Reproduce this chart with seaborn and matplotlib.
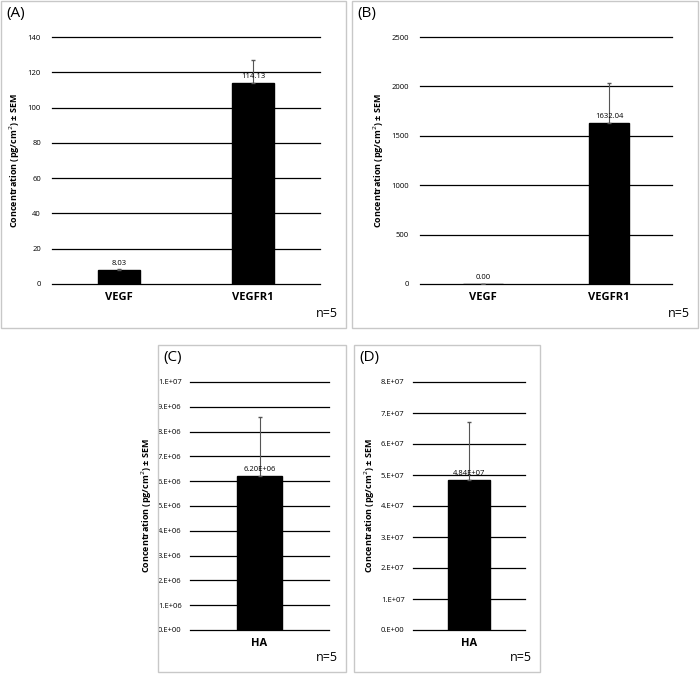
import matplotlib
matplotlib.use("Agg")
import matplotlib.pyplot as plt
from matplotlib.patches import Rectangle
import pandas as pd
import seaborn as sns

plt.rcParams["font.family"] = "Open Sans"

A_CATS = ["VEGF", "VEGFR1"]
A_VALS = [8.03, 114.13]
A_SEM = [0.7, 12.7]
A_LABELS = ["8.03", "114.13"]

B_CATS = ["VEGF", "VEGFR1"]
B_VALS = [0.0, 1632.04]
B_SEM = [0.0, 400.0]
B_LABELS = ["0.00", "1632.04"]

C_CATS = ["HA"]
C_VALS = [6.20e6]
C_SEM = [2.4e6]
C_LABELS = ["6.20E+06"]

D_CATS = ["HA"]
D_VALS = [4.84e7]
D_SEM = [1.88e7]
D_LABELS = ["4.84E+07"]

W, H = 700, 674
fig = plt.figure(figsize=(W / 100, H / 100), dpi=100)


def px_axes(x0, y0, x1, y1):
    return fig.add_axes([x0 / W, 1 - y1 / H, (x1 - x0) / W, (y1 - y0) / H])


def box(x0, y0, x1, y1):
    fig.patches.append(Rectangle((x0 / W, 1 - y1 / H), (x1 - x0) / W, (y1 - y0) / H,
                                 transform=fig.transFigure, fill=False,
                                 edgecolor="#c8c8c8", lw=1.0))


def panel(rect, boxrect, tag, cats, vals, sems, labels, ticks, ticklabels, width, ypad, lpad):
    box(*boxrect)
    ax = px_axes(*rect)
    for t in ticks:
        ax.axhline(t, color="black", lw=0.9, clip_on=False, zorder=0)
    df = pd.DataFrame({"cat": cats, "val": vals})
    sns.barplot(data=df, x="cat", y="val", color="black", width=width, ax=ax,
                saturation=1, edgecolor="black", zorder=2)
    ax.errorbar(range(len(cats)), vals, yerr=[[0] * len(sems), sems], fmt="none",
                ecolor="#555555", elinewidth=0.8, capsize=1.5, zorder=3)
    ax.set_ylim(ticks[0], ticks[-1])
    ax.set_xlim(-0.5, len(cats) - 0.5)
    ax.set_yticks(ticks)
    ax.set_yticklabels(ticklabels, fontsize=5.5)
    for s in ax.spines.values():
        s.set_visible(False)
    ax.tick_params(length=0, pad=ypad)
    ax.tick_params(axis="x", labelsize=8, pad=6)
    for lab in ax.get_xticklabels():
        lab.set_fontweight("bold")
    ax.set_xlabel("")
    ax.set_ylabel("Concentration (pg/cm$^2$) ± SEM", fontsize=6.5, fontweight="bold",
                  labelpad=lpad)
    span = ticks[-1] - ticks[0]
    for i, (v, t) in enumerate(zip(vals, labels)):
        ax.text(i, v + span * 0.012, t, ha="center", va="bottom", fontsize=5.5, zorder=4)
    bx0, by0, bx1, by1 = boxrect
    fig.text((bx0 + 5) / W, 1 - (by0 + 5) / H, tag, ha="left", va="top", fontsize=11)
    fig.text((bx1 - 8) / W, 1 - (by1 - 8) / H, "n=5", ha="right", va="bottom", fontsize=9)
    return ax


panel((52, 37, 320, 284), (1, 1, 346, 328), "(A)", A_CATS, A_VALS, A_SEM, A_LABELS,
      list(range(0, 141, 20)), [str(v) for v in range(0, 141, 20)], 0.31, 8, 4)
panel((420, 37, 672, 284), (352, 1, 698, 328), "(B)", B_CATS, B_VALS, B_SEM, B_LABELS,
      list(range(0, 2501, 500)), [str(v) for v in range(0, 2501, 500)], 0.31, 8, 4)
c_ticks = [i * 1e6 for i in range(11)]
c_labels = ["0.E+00"] + [f"{i}.E+06" for i in range(1, 10)] + ["1.E+07"]
panel((190, 382, 329, 630), (158, 345, 346, 672), "(C)", C_CATS, C_VALS, C_SEM, C_LABELS,
      c_ticks, c_labels, 0.32, 6, 3)
d_ticks = [i * 1e7 for i in range(9)]
d_labels = ["0.E+00"] + [f"{i}.E+07" for i in range(1, 9)]
panel((413, 382, 525, 630), (354, 345, 540, 672), "(D)", D_CATS, D_VALS, D_SEM, D_LABELS,
      d_ticks, d_labels, 0.38, 6, 3)

fig.savefig("out.png", dpi=100)
